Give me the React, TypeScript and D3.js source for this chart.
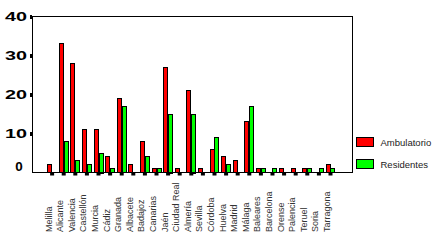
import React from "react";
import * as d3 from "d3";

const categories = [
  "Melilla", "Alicante", "Valencia", "Castellón", "Murcia", "Cádiz", "Granada",
  "Albacete", "Badajoz", "Canarias", "Jaén", "Ciudad Real", "Almería", "Sevilla",
  "Córdoba", "Huelva", "Madrid", "Málaga", "Baleares", "Barcelona", "Orense",
  "Palencia", "Teruel", "Soria", "Tarragona",
];
const ambulatorio = [2, 33, 28, 11, 11, 4, 19, 2, 8, 1, 27, 1, 21, 1, 6, 4, 3, 13, 1, 0, 1, 1, 1, 0, 2];
const residentes = [0, 8, 3, 2, 5, 1, 17, 0, 4, 1, 15, 0, 15, 0, 9, 2, 0, 17, 1, 1, 0, 0, 1, 1, 1];
const seriesNames = ["Ambulatorio", "Residentes"];
const seriesColors = ["#ff0000", "#00ff00"];
const yTicks = [0, 10, 20, 30, 40];

const W = 440;
const H = 249;
const frame = { left: 32, right: 352, top: 16, bottom: 172 };

export default function App() {
  const x0 = d3.scaleBand<string>().domain(categories).range([47.3, 335.3]).paddingInner(0.17).paddingOuter(0);
  const x1 = d3.scaleBand<string>().domain(seriesNames).range([0, x0.bandwidth()]).padding(0);
  const y = d3.scaleLinear().domain([0, 40]).range([frame.bottom, frame.top]);
  const seriesValues = [ambulatorio, residentes];

  return (
    <svg
      width={W}
      height={H}
      style={{ position: "absolute", left: 0, top: 0, background: "#fff" }}
      fontFamily="'Liberation Sans', Arial, sans-serif"
    >
      <rect x={0} y={0} width={W} height={H} fill="#fff" />
      {/* bars */}
      {categories.map((c, i) =>
        seriesNames.map((s, k) => {
          const v = seriesValues[k][i];
          if (v <= 0) return null;
          const bx = (x0(c) ?? 0) + (x1(s) ?? 0);
          return (
            <rect
              key={c + s}
              x={Math.round(bx) + 0.5}
              y={Math.round(y(v)) + 0.5}
              width={Math.round(x1.bandwidth()) - 1}
              height={Math.round(frame.bottom - y(v))}
              fill={seriesColors[k]}
              stroke="#000"
              strokeWidth={1}
            />
          );
        })
      )}
      {/* frame */}
      <rect
        x={frame.left + 0.5}
        y={frame.top + 0.5}
        width={frame.right - frame.left}
        height={frame.bottom - frame.top}
        fill="none"
        stroke="#000"
        strokeWidth={1}
      />
      {/* y ticks and labels */}
      {yTicks.map((t) => (
        <g key={t}>
          {t > 0 && <rect x={frame.left - 2} y={Math.round(y(t)) - 1} width={2} height={4} fill="#000" />}
          <text
            x={t === 0 ? 19 : 16}
            y={Math.min(y(t), 166) + 4.5}
            textAnchor="middle"
            fontSize={12}
            fontWeight={600}
            fill="#000"
            textLength={t === 0 ? 7.5 : 22}
            lengthAdjust="spacingAndGlyphs"
          >
            {t}
          </text>
        </g>
      ))}
      {/* x ticks */}
      {categories.map((c) => {
        const cx = (x0(c) ?? 0) + x0.bandwidth() / 2;
        return <rect key={"t" + c} x={cx - 2} y={frame.bottom + 1} width={4} height={2.5} fill="#000" />;
      })}
      {/* x labels */}
      {categories.map((c) => {
        const cx = (x0(c) ?? 0) + x0.bandwidth() / 2 - 0.5;
        return (
          <text
            key={"l" + c}
            transform={`translate(${cx},232) rotate(-90)`}
            fontSize={9}
            fill="#333"
            textAnchor="start"
          >
            {c}
          </text>
        );
      })}
      {/* legend */}
      {seriesNames.map((s, k) => (
        <g key={"lg" + s} transform={`translate(356.5,${137.5 + k * 22})`}>
          <rect x={0} y={0} width={17} height={9} fill={seriesColors[k]} stroke="#000" strokeWidth={1} />
          <text x={24} y={8} fontSize={9.5} fill="#222">
            {s}
          </text>
        </g>
      ))}
    </svg>
  );
}
